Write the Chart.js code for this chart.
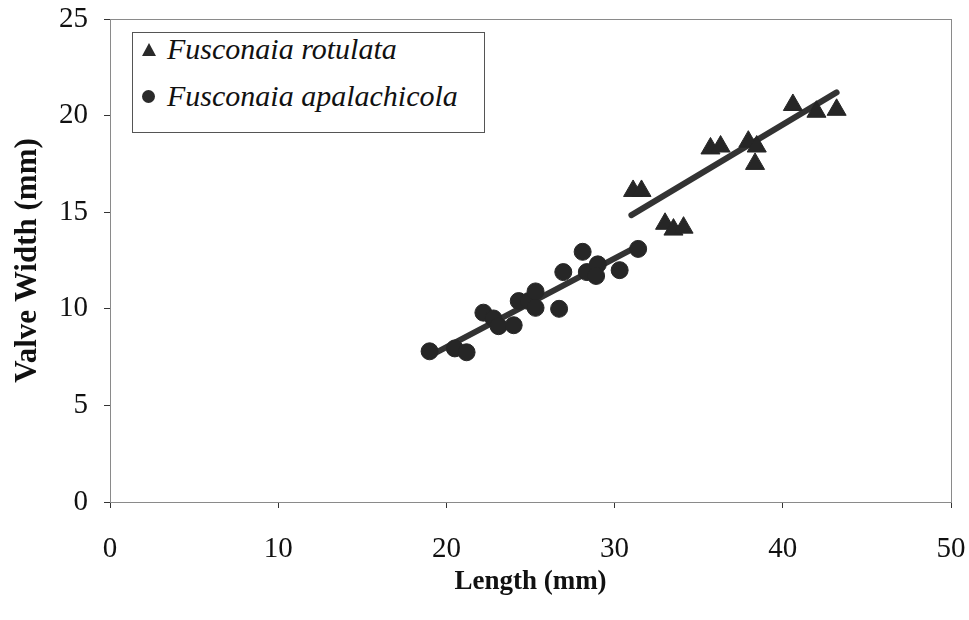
<!DOCTYPE html>
<html>
<head>
<meta charset="utf-8">
<script src="https://cdn.jsdelivr.net/npm/chart.js@4/dist/chart.umd.min.js"></script>
<style>
  html, body { margin: 0; padding: 0; background: #fff; }
  #wrap { position: relative; width: 969px; height: 620px; }
  #legend {
    position: absolute; left: 132px; top: 32px; width: 353px; height: 101px;
    box-sizing: border-box; border: 1px solid #555; background: #fff;
    font-family: "Liberation Serif", "Times New Roman", serif;
    font-style: italic; font-size: 30px; color: #111;
  }
  #legend .row { position: absolute; left: 34px; white-space: nowrap; line-height: 30px; }
  #legend .mark { position: absolute; left: -25px; }
  .tri { width: 0; height: 0; border-left: 7px solid transparent; border-right: 7px solid transparent; border-bottom: 13px solid #2a2a2a; top: 9px; }
  .dot { width: 13px; height: 13px; border-radius: 50%; background: #2a2a2a; top: 9px; }
</style>
</head>
<body>
<div id="wrap">
  <canvas id="chart" width="969" height="620"></canvas>
  <div id="legend"></div>
</div>
<script>
const seriesNames = ['Fusconaia rotulata', 'Fusconaia apalachicola'];

// F. rotulata (triangles)
const rotLength = [31.1, 31.6, 33.0, 33.5, 34.1, 35.7, 36.3, 37.95, 38.45, 38.35, 40.6, 42.0, 43.2];
const rotWidth  = [16.1, 16.1, 14.4, 14.1, 14.2, 18.3, 18.4, 18.65, 18.4, 17.5, 20.55, 20.2, 20.3];

// F. apalachicola (circles)
const apaLength = [19.0, 20.5, 21.2, 22.2, 22.8, 23.1, 24.0, 24.3, 24.9, 25.3, 25.3, 26.7, 26.95, 28.1, 28.35, 29.0, 28.9, 30.3, 31.4];
const apaWidth  = [7.8, 7.95, 7.75, 9.8, 9.5, 9.1, 9.15, 10.4, 10.4, 10.9, 10.05, 10.0, 11.9, 12.95, 11.9, 12.3, 11.7, 12.0, 13.1];

// fitted lines, end points
const rotFitX = [31.0, 43.2];
const rotFitY = [14.85, 21.2];
const apaFitX = [19.1, 31.5];
const apaFitY = [7.6, 13.3];

const xTicks = [0, 10, 20, 30, 40, 50];
const yTicks = [0, 5, 10, 15, 20, 25];

const ink = '#262626';
const serif = '"Liberation Serif", "Times New Roman", serif';

function pts(xs, ys) {
  return xs.map((x, i) => ({ x: x, y: ys[i] }));
}

const frame = {
  id: 'frame',
  beforeDatasetsDraw(chart) {
    const a = chart.chartArea;
    const c = chart.ctx;
    c.save();
    c.strokeStyle = '#8a8a8a';
    c.lineWidth = 1;
    c.strokeRect(a.left + 0.5, a.top + 0.5, a.right - a.left, a.bottom - a.top);
    c.restore();
  }
};

new Chart(document.getElementById('chart').getContext('2d'), {
  type: 'scatter',
  data: {
    datasets: [
      { label: seriesNames[0] + ' fit', type: 'line', data: pts(rotFitX, rotFitY), borderColor: '#333',
        borderWidth: 6, borderCapStyle: 'round', pointRadius: 0, fill: false, order: 2 },
      { label: seriesNames[1] + ' fit', type: 'line', data: pts(apaFitX, apaFitY), borderColor: '#333',
        borderWidth: 6, borderCapStyle: 'round', pointRadius: 0, fill: false, order: 2 },
      { label: seriesNames[0], data: pts(rotLength, rotWidth), pointStyle: 'triangle', pointRadius: 11,
        backgroundColor: ink, borderColor: ink, borderWidth: 1, order: 1 },
      { label: seriesNames[1], data: pts(apaLength, apaWidth), pointStyle: 'circle', pointRadius: 8.5,
        backgroundColor: ink, borderColor: ink, borderWidth: 1, order: 1 }
    ]
  },
  options: {
    responsive: false,
    animation: false,
    layout: { padding: { top: 19, right: 18, left: 0, bottom: 0 } },
    plugins: { legend: { display: false }, tooltip: { enabled: false } },
    scales: {
      x: {
        type: 'linear', min: 0, max: 50,
        afterBuildTicks(s) { s.ticks = xTicks.map(v => ({ value: v })); },
        afterFit(s) { s.height = 118; s.paddingLeft = 0; s.paddingRight = 0; },
        grid: { drawOnChartArea: false, tickLength: 6, color: '#333' },
        border: { color: '#333', width: 1 },
        ticks: { color: '#111', padding: 24, font: { family: serif, size: 29 } },
        title: { display: true, text: 'Length (mm)', color: '#111', padding: { top: 4, bottom: 22 },
          font: { family: serif, size: 27, weight: 'bold' } }
      },
      y: {
        type: 'linear', min: 0, max: 25,
        afterBuildTicks(s) { s.ticks = yTicks.map(v => ({ value: v })); },
        afterFit(s) { s.width = 110; s.paddingTop = 0; s.paddingBottom = 0; },
        grid: { drawOnChartArea: false, tickLength: 6, color: '#333' },
        border: { color: '#333', width: 1 },
        ticks: { color: '#111', padding: 16, font: { family: serif, size: 29 } },
        title: { display: true, text: 'Valve Width (mm)', color: '#111', padding: { top: 9, bottom: 0 },
          font: { family: serif, size: 31, weight: 'bold' } }
      }
    }
  },
  plugins: [frame]
});

const legend = document.getElementById('legend');
['tri', 'dot'].forEach((cls, i) => {
  const row = document.createElement('div');
  row.className = 'row';
  row.style.top = (i === 0 ? 1 : 48) + 'px';
  const m = document.createElement('span');
  m.className = 'mark ' + cls;
  row.appendChild(m);
  row.appendChild(document.createTextNode(seriesNames[i]));
  legend.appendChild(row);
});
</script>
</body>
</html>
